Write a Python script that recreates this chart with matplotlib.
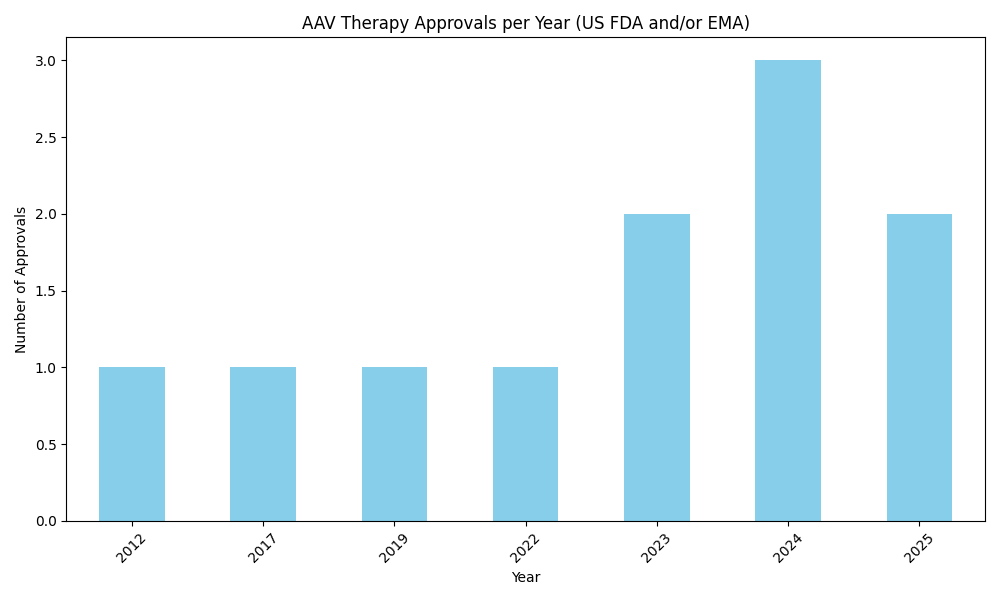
import pandas as pd
import matplotlib
matplotlib.use("Agg")
import matplotlib.pyplot as plt

# approvals per year
years = ["2012", "2017", "2019", "2022", "2023", "2024", "2025"]
approvals = [1, 1, 1, 1, 2, 3, 2]

counts = pd.Series(approvals, index=years)

plt.figure(figsize=(10, 6))
counts.plot(kind="bar", color="skyblue")
plt.title("AAV Therapy Approvals per Year (US FDA and/or EMA)")
plt.xlabel("Year")
plt.ylabel("Number of Approvals")
plt.xticks(rotation=45)
plt.tight_layout()
plt.savefig("out.png", dpi=100)
